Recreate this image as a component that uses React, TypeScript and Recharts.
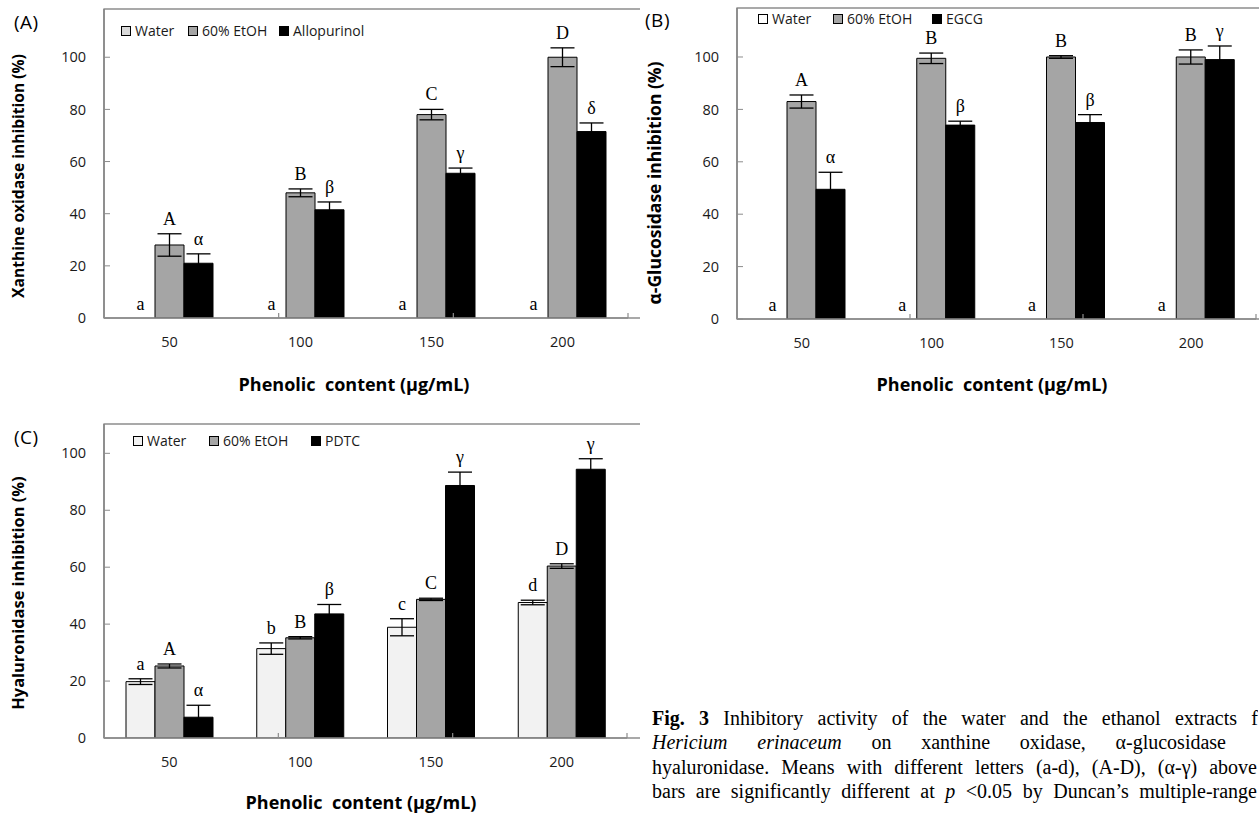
import React from 'react';
import { BarChart, Bar, XAxis, YAxis, ErrorBar, LabelList, ReferenceArea, ReferenceLine } from 'recharts';

const categories = ['50', '100', '150', '200'];
const tickValues = [0, 20, 40, 60, 80, 100];

// Panel A: xanthine oxidase
const xoWater = [0, 0, 0, 0];
const xoWaterErr = [0, 0, 0, 0];
const xoWaterSig = ['a', 'a', 'a', 'a'];
const xoEtoh = [28, 48, 78, 100];
const xoEtohErr = [4.3, 1.5, 2, 3.6];
const xoEtohSig = ['A', 'B', 'C', 'D'];
const xoAllo = [21, 41.5, 55.5, 71.5];
const xoAlloErr = [3.6, 3, 2, 3.3];
const xoAlloSig = ['α', 'β', 'γ', 'δ'];

// Panel B: alpha-glucosidase
const agWater = [0, 0, 0, 0];
const agWaterErr = [0, 0, 0, 0];
const agWaterSig = ['a', 'a', 'a', 'a'];
const agEtoh = [83, 99.5, 100, 100];
const agEtohErr = [2.5, 2, 0.5, 2.7];
const agEtohSig = ['A', 'B', 'B', 'B'];
const agEgcg = [49.5, 74, 75, 99];
const agEgcgErr = [6.5, 1.5, 3, 5.2];
const agEgcgSig = ['α', 'β', 'β', 'γ'];

// Panel C: hyaluronidase
const hyWater = [19.8, 31.4, 38.9, 47.6];
const hyWaterErr = [1, 2, 3, 0.8];
const hyWaterSig = ['a', 'b', 'c', 'd'];
const hyEtoh = [25.3, 35.2, 48.7, 60.4];
const hyEtohErr = [0.7, 0.4, 0.4, 0.8];
const hyEtohSig = ['A', 'B', 'C', 'D'];
const hyPdtc = [7.3, 43.6, 88.7, 94.4];
const hyPdtcErr = [4.2, 3.3, 4.7, 3.7];
const hyPdtcSig = ['α', 'β', 'γ', 'γ'];

const SANS = '"Open Sans", "Noto Sans", sans-serif';
const SERIF = '"Liberation Serif", "Times New Roman", serif';
const GRAY = '#a5a5a5';

type Series = { key: string; name: string; values: number[]; errors: number[]; sig: string[]; fill: string };

// label string: sig|err|val|prevSig|prevVal  (prev = neighbouring bar on the left, used when it has zero height)
const SigLabel = (props: any) => {
  const vb = props.viewBox || {};
  const x = Number(props.x ?? vb.x);
  const y = Number(props.y ?? vb.y);
  const w = Number(props.width ?? vb.width);
  const h = Number(props.height ?? vb.height);
  const parts = String(props.value).split('|');
  const sig = parts[0];
  const err = Number(parts[1]);
  const val = Number(parts[2]);
  const prevSig = parts[3] || '';
  const prevVal = Number(parts[4] || 0);
  const ppu = val > 0 ? Math.abs(h) / val : 0;
  const top = y - err * ppu;
  const base = y + h;
  const showSelf = !(val === 0 && err === 0);
  return (
    <g>
      {showSelf && (
        <text x={x + w / 2} y={top - 9} textAnchor="middle" fontFamily={SERIF} fontSize={18} fill="#000">
          {sig}
        </text>
      )}
      {prevSig && prevVal === 0 && (
        <text x={x - w / 2} y={base - 8} textAnchor="middle" fontFamily={SERIF} fontSize={18} fill="#000">
          {prevSig}
        </text>
      )}
    </g>
  );
};

type Box = { left: number; top: number; width: number; height: number };
type Plot = { left: number; top: number; right: number; bottom: number };

function Chart({ box, plot, ymax, series }: { box: Box; plot: Plot; ymax: number; series: Series[] }) {
  const rows = categories.map((c, i) => {
    const r: Record<string, any> = { cat: c };
    series.forEach((s, si) => {
      const prev = si > 0 ? series[si - 1] : null;
      r[s.key] = s.values[i];
      r[s.key + 'Err'] = s.errors[i];
      r[s.key + 'Lab'] = [s.sig[i], s.errors[i], s.values[i], prev ? prev.sig[i] : '', prev ? prev.values[i] : 1].join('|');
    });
    return r;
  });
  const mTop = plot.top - box.top;
  const yw = plot.left - box.left;
  const mRight = box.left + box.width - plot.right;
  const xh = box.top + box.height - plot.bottom;
  return (
    <div style={{ position: 'absolute', left: box.left, top: box.top }}>
      <BarChart
        width={box.width}
        height={box.height}
        data={rows}
        margin={{ top: mTop, right: mRight, bottom: 0, left: 0 }}
        barGap={0}
        barSize={29}
      >
        <XAxis
          xAxisId="cat"
          dataKey="cat"
          height={xh}
          axisLine={{ stroke: '#8c8c8c', strokeWidth: 1.5 }}
          tickLine={false}
          tickSize={0}
          tickMargin={19}
          interval={0}
          tick={{ fill: '#1a1a1a', fontSize: 14.5, fontFamily: SANS }}
        />
        <XAxis xAxisId="sep" type="number" domain={[0, 4]} allowDataOverflow hide />
        <YAxis
          yAxisId="y"
          type="number"
          domain={[0, ymax]}
          ticks={tickValues}
          interval={0}
          allowDataOverflow
          width={yw}
          axisLine={{ stroke: '#8c8c8c', strokeWidth: 1.5 }}
          tickLine={{ stroke: '#8c8c8c' }}
          tickSize={-6}
          tickMargin={24}
          tick={{ fill: '#1a1a1a', fontSize: 14.5, fontFamily: SANS }}
        />
        <ReferenceArea
          xAxisId="sep"
          yAxisId="y"
          x1={0}
          x2={4}
          y1={0}
          y2={ymax}
          fill="none"
          fillOpacity={0}
          stroke="#555"
          strokeWidth={1.2}
          ifOverflow="visible"
        />
        {[1, 2, 3].map((b) => (
          <ReferenceLine
            key={b}
            xAxisId="sep"
            yAxisId="y"
            segment={[{ x: b, y: 0 }, { x: b, y: ymax * 0.016 }]}
            stroke="#8c8c8c"
            strokeWidth={1.2}
            ifOverflow="visible"
          />
        ))}
        {series.map((s) => (
          <Bar
            key={s.key}
            xAxisId="cat"
            yAxisId="y"
            dataKey={s.key}
            name={s.name}
            fill={s.fill}
            stroke="#000"
            strokeWidth={1}
            isAnimationActive={false}
          >
            <ErrorBar dataKey={s.key + 'Err'} width={12} stroke="#000" strokeWidth={1.3} isAnimationActive={false} />
            <LabelList dataKey={s.key + 'Lab'} content={SigLabel} />
          </Bar>
        ))}
      </BarChart>
    </div>
  );
}

type LegItem = { label: string; fill: string; x: number };

function LegendRow({ items, cy }: { items: LegItem[]; cy: number }) {
  return (
    <>
      {items.map((it) => (
        <React.Fragment key={it.label}>
          <div
            style={{
              position: 'absolute',
              left: it.x,
              top: cy - 5,
              width: 10,
              height: 10,
              background: it.fill,
              border: '1px solid #000',
              boxSizing: 'border-box',
            }}
          />
          <div
            style={{
              position: 'absolute',
              left: it.x + 14,
              top: cy - 10,
              height: 20,
              lineHeight: '20px',
              fontFamily: SANS,
              fontSize: 14,
              color: '#1a1a1a',
              whiteSpace: 'nowrap',
            }}
          >
            {it.label}
          </div>
        </React.Fragment>
      ))}
    </>
  );
}

function YTitle({ text, cx, cy, size }: { text: string; cx: number; cy: number; size: number }) {
  return (
    <div
      style={{
        position: 'absolute',
        left: cx - 200,
        top: cy - 12,
        width: 400,
        height: 24,
        lineHeight: '24px',
        textAlign: 'center',
        transform: 'rotate(-90deg)',
        fontFamily: SANS,
        fontWeight: 700,
        fontSize: size,
        color: '#000',
        whiteSpace: 'nowrap',
      }}
    >
      {text}
    </div>
  );
}

function XTitle({ cx, cy }: { cx: number; cy: number }) {
  return (
    <div
      style={{
        position: 'absolute',
        left: cx - 200,
        top: cy - 13,
        width: 400,
        height: 26,
        lineHeight: '26px',
        textAlign: 'center',
        fontFamily: SANS,
        fontWeight: 700,
        fontSize: 18,
        color: '#000',
        whiteSpace: 'pre',
      }}
    >
      {'Phenolic  content (μg/mL)'}
    </div>
  );
}

function PanelTag({ text, x, cy }: { text: string; x: number; cy: number }) {
  return (
    <div
      style={{
        position: 'absolute',
        left: x,
        top: cy - 13,
        height: 26,
        lineHeight: '26px',
        fontFamily: SANS,
        fontSize: 19,
        letterSpacing: 0.5,
        color: '#000',
      }}
    >
      {text}
    </div>
  );
}

const captionLine = (w: number): React.CSSProperties => ({
  width: w,
  height: 24.3,
  lineHeight: '24.3px',
  textAlign: 'justify',
  textAlignLast: 'justify' as any,
  overflow: 'hidden',
  whiteSpace: 'normal',
});

export default function App() {
  const seriesA: Series[] = [
    { key: 'water', name: 'Water', values: xoWater, errors: xoWaterErr, sig: xoWaterSig, fill: '#d9d9d9' },
    { key: 'etoh', name: '60% EtOH', values: xoEtoh, errors: xoEtohErr, sig: xoEtohSig, fill: GRAY },
    { key: 'allo', name: 'Allopurinol', values: xoAllo, errors: xoAlloErr, sig: xoAlloSig, fill: '#000' },
  ];
  const seriesB: Series[] = [
    { key: 'water', name: 'Water', values: agWater, errors: agWaterErr, sig: agWaterSig, fill: '#ffffff' },
    { key: 'etoh', name: '60% EtOH', values: agEtoh, errors: agEtohErr, sig: agEtohSig, fill: GRAY },
    { key: 'egcg', name: 'EGCG', values: agEgcg, errors: agEgcgErr, sig: agEgcgSig, fill: '#000' },
  ];
  const seriesC: Series[] = [
    { key: 'water', name: 'Water', values: hyWater, errors: hyWaterErr, sig: hyWaterSig, fill: '#f2f2f2' },
    { key: 'etoh', name: '60% EtOH', values: hyEtoh, errors: hyEtohErr, sig: hyEtohSig, fill: GRAY },
    { key: 'pdtc', name: 'PDTC', values: hyPdtc, errors: hyPdtcErr, sig: hyPdtcSig, fill: '#000' },
  ];

  return (
    <div
      style={{
        position: 'absolute',
        left: 0,
        top: 0,
        width: 1259,
        height: 814,
        overflow: 'hidden',
        background: '#fff',
      }}
    >
      <Chart
        box={{ left: 0, top: 0, width: 640, height: 400 }}
        plot={{ left: 104, top: 9, right: 628, bottom: 318 }}
        ymax={118.5}
        series={seriesA}
      />
      <Chart
        box={{ left: 630, top: 0, width: 629, height: 400 }}
        plot={{ left: 737, top: 8, right: 1256, bottom: 319 }}
        ymax={118.7}
        series={seriesB}
      />
      <Chart
        box={{ left: 0, top: 410, width: 640, height: 404 }}
        plot={{ left: 104, top: 424, right: 627, bottom: 738 }}
        ymax={110.3}
        series={seriesC}
      />

      <LegendRow
        cy={31}
        items={[
          { label: 'Water', fill: '#d9d9d9', x: 121 },
          { label: '60% EtOH', fill: GRAY, x: 188 },
          { label: 'Allopurinol', fill: '#000', x: 279 },
        ]}
      />
      <LegendRow
        cy={19}
        items={[
          { label: 'Water', fill: '#ffffff', x: 758 },
          { label: '60% EtOH', fill: GRAY, x: 833 },
          { label: 'EGCG', fill: '#000', x: 932 },
        ]}
      />
      <LegendRow
        cy={441}
        items={[
          { label: 'Water', fill: '#f2f2f2', x: 133 },
          { label: '60% EtOH', fill: GRAY, x: 209 },
          { label: 'PDTC', fill: '#000', x: 311 },
        ]}
      />

      <PanelTag text="(A)" x={14} cy={22} />
      <PanelTag text="(B)" x={645} cy={20} />
      <PanelTag text="(C)" x={14} cy={437} />

      <YTitle text="Xanthine oxidase inhibition (%)" cx={18} cy={176} size={15.6} />
      <YTitle text="α-Glucosidase inhibition (%)" cx={654} cy={183} size={17.5} />
      <YTitle text="Hyaluronidase inhibition (%)" cx={18} cy={593} size={16.4} />

      <XTitle cx={354} cy={384} />
      <XTitle cx={992} cy={384} />
      <XTitle cx={361} cy={802} />

      <div
        style={{
          position: 'absolute',
          left: 652,
          top: 706,
          fontFamily: SERIF,
          fontSize: 20,
          color: '#000',
        }}
      >
        <div style={captionLine(606)}>
          <b>Fig. 3</b> Inhibitory activity of the water and the ethanol extracts f
        </div>
        <div style={captionLine(574)}>
          <i>Hericium erinaceum</i> on xanthine oxidase, α-glucosidase
        </div>
        <div style={captionLine(605)}>hyaluronidase. Means with different letters (a-d), (A-D), (α-γ) above</div>
        <div style={captionLine(605)}>
          bars are significantly different at <i>p</i> &lt;0.05 by Duncan’s multiple-range
        </div>
      </div>
    </div>
  );
}
